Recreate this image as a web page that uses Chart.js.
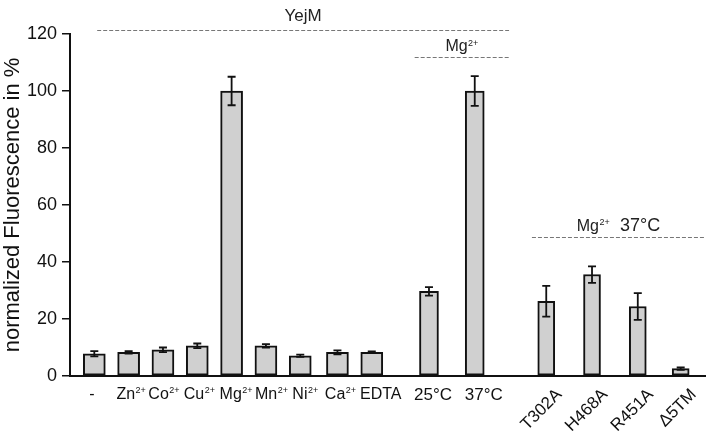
<!DOCTYPE html>
<html>
<head>
<meta charset="utf-8">
<script src="https://cdn.jsdelivr.net/npm/chart.js@4.4.1/dist/chart.umd.min.js"></script>
<style>
  html, body { margin: 0; padding: 0; background: #fff; }
  #wrap { width: 708px; height: 432px; }
</style>
</head>
<body>
<div id="wrap"><canvas id="yejmChart"></canvas></div>
<script>
// values (normalized fluorescence, %)
const metalLabels = ['-', 'Zn²⁺', 'Co²⁺', 'Cu²⁺', 'Mg²⁺', 'Mn²⁺', 'Ni²⁺', 'Ca²⁺', 'EDTA'];
const metalValues = [7.8, 8.3, 9.2, 10.6, 100, 10.6, 7.1, 8.3, 8.3];
const metalErrors = [0.9, 0.4, 0.8, 0.8, 5.0, 0.6, 0.4, 0.7, 0.3];

const tempLabels = ['25°C', '37°C'];
const tempValues = [29.7, 100];
const tempErrors = [1.5, 5.2];

const mutantLabels = ['T302A', 'H468A', 'R451A', 'Δ5TM'];
const mutantValues = [26.2, 35.6, 24.4, 2.6];
const mutantErrors = [5.4, 2.9, 4.7, 0.4];

const yTicks = [0, 20, 40, 60, 80, 100, 120];

// layout: bars sit on a fine category grid so the gaps between groups match
const SLOTS = 222;
const metalSlots = [8, 20, 32, 44, 56, 68, 80, 93, 105];
const tempSlots = [125, 141];
const mutantSlots = [166, 182, 198, 213];
// the original labels are not quite centred under their bars (px)
const metalLabelShift = [-2.5, 2.5, 1, 2, 4.5, 5.5, 5, 3, 9];
const tempLabelShift = [4, 9];

const FONT = "'Liberation Sans', Arial, sans-serif";
const BAR_FILL = '#d0d0d0';

function spread(slots, values) {
    const out = new Array(SLOTS).fill(null);
    slots.forEach((s, i) => { out[s] = values[i]; });
    return out;
}

// draw text, turning ² ⁺ into a small raised "2+"
function drawSupText(ctx, text, x, y, size, align) {
    const m = text.match(/^([^²⁺]*)([²⁺]*)(.*)$/);
    const base = m[1];
    const sup = m[2].replace('²', '2').replace('⁺', '+');
    const supSize = Math.round(size * 0.58);
    ctx.font = size + 'px ' + FONT;
    const wBase = ctx.measureText(base).width;
    ctx.font = supSize + 'px ' + FONT;
    const wSup = sup ? ctx.measureText(sup).width + 0.5 : 0;
    const total = wBase + wSup;
    let x0 = x;
    if (align === 'center') x0 = x - total / 2;
    if (align === 'right') x0 = x - total;
    ctx.textAlign = 'left';
    ctx.font = size + 'px ' + FONT;
    ctx.fillText(base, x0, y);
    if (sup) {
        ctx.font = supSize + 'px ' + FONT;
        ctx.fillText(sup, x0 + wBase + 0.5, y - size * 0.36);
    }
    return total;
}

const errorBars = {
    id: 'errorBars',
    afterDatasetsDraw(chart) {
        const { ctx } = chart;
        const y = chart.scales.y;
        const groups = [
            [metalSlots, metalValues, metalErrors],
            [tempSlots, tempValues, tempErrors],
            [mutantSlots, mutantValues, mutantErrors],
        ];
        ctx.save();
        ctx.strokeStyle = '#111';
        ctx.lineWidth = 1.8;
        groups.forEach(([slots, vals, errs], d) => {
            const meta = chart.getDatasetMeta(d);
            slots.forEach((s, i) => {
                const cx = meta.data[s].x;
                const top = y.getPixelForValue(vals[i] + errs[i]);
                const bot = y.getPixelForValue(vals[i] - errs[i]);
                ctx.beginPath();
                ctx.moveTo(cx, top); ctx.lineTo(cx, bot);
                ctx.moveTo(cx - 4, top); ctx.lineTo(cx + 4, top);
                ctx.moveTo(cx - 4, bot); ctx.lineTo(cx + 4, bot);
                ctx.stroke();
            });
        });
        ctx.restore();
    }
};

const categoryLabels = {
    id: 'categoryLabels',
    afterDraw(chart) {
        const { ctx } = chart;
        const x = chart.scales.x;
        ctx.save();
        ctx.fillStyle = '#111';
        ctx.textBaseline = 'alphabetic';
        metalLabels.forEach((t, i) => {
            drawSupText(ctx, t, x.getPixelForValue(metalSlots[i]) + metalLabelShift[i], 399, 16, 'center');
        });
        tempLabels.forEach((t, i) => {
            drawSupText(ctx, t, x.getPixelForValue(tempSlots[i]) + tempLabelShift[i], 400, 17, 'center');
        });
        ctx.font = '17px ' + FONT;
        ctx.textAlign = 'right';
        ctx.textBaseline = 'top';
        mutantLabels.forEach((t, i) => {
            ctx.save();
            ctx.translate(x.getPixelForValue(mutantSlots[i]) + 7, 386);
            ctx.rotate(-Math.PI / 4);
            ctx.fillText(t, 0, 0);
            ctx.restore();
        });
        ctx.restore();
    }
};

// dashed brackets with their captions above the groups
const groupMarks = {
    id: 'groupMarks',
    afterDraw(chart) {
        const { ctx, chartArea } = chart;
        const x = chart.scales.x;
        const y = chart.scales.y;
        const dash = (x1, x2, v) => {
            const py = Math.round(y.getPixelForValue(v)) + 0.5;
            ctx.beginPath();
            ctx.moveTo(x1, py); ctx.lineTo(x2, py);
            ctx.stroke();
        };
        ctx.save();
        ctx.strokeStyle = '#777';
        ctx.lineWidth = 1;
        ctx.setLineDash([4, 2]);
        const l1 = x.getPixelForValue(9), r1 = x.getPixelForValue(153);
        const l2 = x.getPixelForValue(120);
        const l3 = x.getPixelForValue(161), r3 = chartArea.right;
        dash(l1, r1, 121.4);
        dash(l2, r1, 111.8);
        dash(l3, r3, 48.9);
        ctx.setLineDash([]);
        ctx.fillStyle = '#222';
        ctx.textBaseline = 'alphabetic';
        drawSupText(ctx, 'YejM', (l1 + r1) / 2, y.getPixelForValue(124.4), 17, 'center');
        drawSupText(ctx, 'Mg²⁺', (l2 + r1) / 2, y.getPixelForValue(113.9), 16, 'center');
        // "Mg²⁺  37°C" as one caption
        ctx.font = '18px ' + FONT;
        const wT = ctx.measureText('37°C').width;
        ctx.font = '16px ' + FONT;
        const wM = ctx.measureText('Mg').width + ctx.measureText('2+').width * 0.58 + 0.5;
        const gap = 10;
        const start = (l3 + r3) / 2 - (wM + gap + wT) / 2;
        const by = y.getPixelForValue(50.8);
        drawSupText(ctx, 'Mg²⁺', start, by, 16, 'left');
        ctx.font = '18px ' + FONT;
        ctx.textAlign = 'left';
        ctx.fillText('37°C', start + wM + gap, by);
        ctx.restore();
    }
};

const barStyle = {
    backgroundColor: BAR_FILL,
    borderColor: '#111',
    borderWidth: 2,
    borderSkipped: false,
    grouped: false,
    skipNull: true,
};

new Chart(document.getElementById('yejmChart'), {
    type: 'bar',
    data: {
        labels: new Array(SLOTS).fill(''),
        datasets: [
            { ...barStyle, label: 'metals', data: spread(metalSlots, metalValues), barThickness: 22 },
            { ...barStyle, label: 'temperature', data: spread(tempSlots, tempValues), barThickness: 19 },
            { ...barStyle, label: 'mutants', data: spread(mutantSlots, mutantValues), barThickness: 17 },
        ],
    },
    options: {
        responsive: true,
        maintainAspectRatio: false,
        animation: false,
        layout: { padding: { top: 34, right: 3, left: 0, bottom: 0 } },
        plugins: {
            legend: { display: false },
            tooltip: { enabled: false },
        },
        scales: {
            x: {
                grid: { display: false },
                border: { display: true, color: '#111', width: 2 },
                ticks: { display: false },
                afterFit: (scale) => { scale.height = 56; },
            },
            y: {
                min: 0,
                max: 120,
                afterBuildTicks: (scale) => { scale.ticks = yTicks.map(v => ({ value: v })); },
                afterFit: (scale) => { scale.width = 70; },
                grid: {
                    drawOnChartArea: false,
                    drawTicks: true,
                    tickLength: 8,
                    color: '#111',
                    lineWidth: 1.5,
                },
                border: { display: true, color: '#111', width: 2 },
                ticks: {
                    padding: 5,
                    color: '#111',
                    font: { family: FONT, size: 18 },
                },
                title: {
                    display: true,
                    text: 'normalized Fluorescence in %',
                    color: '#111',
                    padding: 0,
                    font: { family: FONT, size: 22 },
                },
            },
        },
    },
    plugins: [errorBars, categoryLabels, groupMarks],
});
</script>
</body>
</html>
